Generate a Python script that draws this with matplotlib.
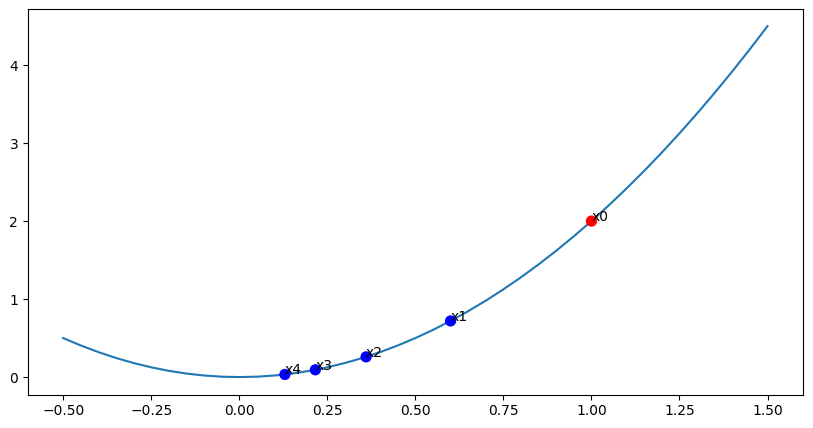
import numpy as np
import matplotlib
matplotlib.use('Agg')
import matplotlib.pyplot as plt

# curve sampled every 0.05 from -0.5 to 1.5
curve_x = np.linspace(-0.5, 1.5, 41)
curve_y = [0.5, 0.405, 0.32, 0.245, 0.18, 0.125, 0.08, 0.045, 0.02, 0.005,
           0.0, 0.005, 0.02, 0.045, 0.08, 0.125, 0.18, 0.245, 0.32, 0.405,
           0.5, 0.605, 0.72, 0.845, 0.98, 1.125, 1.28, 1.445, 1.62, 1.805,
           2.0, 2.205, 2.42, 2.645, 2.88, 3.125, 3.38, 3.645, 3.92, 4.205, 4.5]

# iterates
point_labels = ['x0', 'x1', 'x2', 'x3', 'x4']
point_x = [1.0, 0.6, 0.36, 0.216, 0.1296]
point_y = [2.0, 0.72, 0.2592, 0.0933, 0.0336]
point_colors = ['red', 'blue', 'blue', 'blue', 'blue']

fig = plt.figure(figsize=(8.13, 4.28), dpi=100)
ax = fig.add_axes([0.0344, 0.078, 0.953, 0.902])
ax.plot(curve_x, curve_y)
ax.scatter(point_x, point_y, c=point_colors, s=50, zorder=3)
for lab, x, y in zip(point_labels, point_x, point_y):
    ax.text(x, y, lab)

fig.savefig('out.png', dpi=100)
